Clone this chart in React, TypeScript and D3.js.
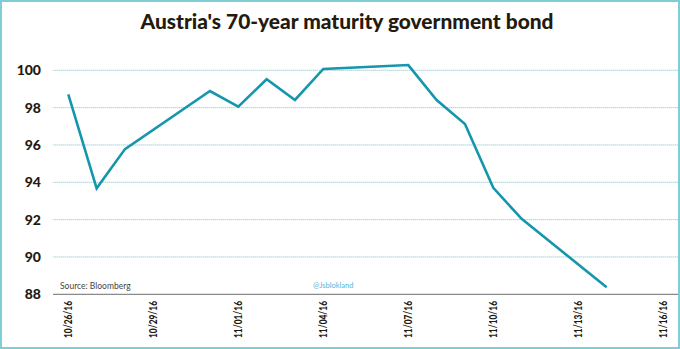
import React from "react";
import * as d3 from "d3";

const dates = ["2016-10-26","2016-10-27","2016-10-28","2016-10-31","2016-11-01","2016-11-02","2016-11-03","2016-11-04","2016-11-07","2016-11-08","2016-11-09","2016-11-10","2016-11-11","2016-11-14"];
const prices = [98.71, 93.68, 95.78, 98.89, 98.05, 99.52, 98.41, 100.07, 100.28, 98.41, 97.12, 93.7, 92.04, 88.38];
const xTicks = ["2016-10-26","2016-10-29","2016-11-01","2016-11-04","2016-11-07","2016-11-10","2016-11-13","2016-11-16"];
const yTicks = [88, 90, 92, 94, 96, 98, 100];

const W = 680, H = 349;
const parse = d3.utcParse("%Y-%m-%d");
const fmt = d3.utcFormat("%m/%d/%y");

export default function App() {
  const x = d3.scaleUtc()
    .domain([parse("2016-10-26")!, parse("2016-11-16")!])
    .range([68.3, 663.3]);
  const y = d3.scaleLinear().domain([88, 100]).range([294.3, 70.3]);
  const data = dates.map((d, i) => ({ d: parse(d)!, v: prices[i] }));
  const line = d3.line<{ d: Date; v: number }>().x(p => x(p.d)).y(p => y(p.v));

  return (
    <svg width={W} height={H} style={{ position: "absolute", left: 0, top: 0, background: "#fff" }}
      fontFamily="Lato, 'Open Sans', sans-serif">
      <rect x={1} y={1} width={W - 2} height={H - 2} fill="#fff" stroke="#7fcdd5" strokeWidth={2} />
      <text x={347} y={29} textAnchor="middle" fontSize={20} fontWeight="900" fill="#241a0e"
        textLength={413} lengthAdjust="spacingAndGlyphs">Austria's 70-year maturity government bond</text>
      {yTicks.filter(t => t !== 88).map(t => (
        <line key={t} x1={53} x2={678} y1={y(t)} y2={y(t)} stroke="#9dd6de" strokeWidth={1} strokeDasharray="1.5 0.5" />
      ))}
      <line x1={53} x2={678} y1={y(88)} y2={y(88)} stroke="#8a8a8a" strokeWidth={1.3} />
      {yTicks.map(t => (
        <text key={t} x={41} y={y(t)} dy="0.35em" textAnchor="end" fontSize={14} fontWeight="900" fill="#1e1a12">{t}</text>
      ))}
      {xTicks.map(t => {
        const px = x(parse(t)!);
        return (
          <text key={t} transform={`translate(${px + 4},301) rotate(-90)`} textAnchor="end" fontSize={11.5}
            fontWeight="900" fill="#1e1a12" textLength={37} lengthAdjust="spacingAndGlyphs">{fmt(parse(t)!)}</text>
        );
      })}
      <text x={60} y={289} fontSize={8.5} fill="#444">Source: Bloomberg</text>
      <text x={313} y={288} fontSize={7.5} fill="#4fb8d8">@Jsblokland</text>
      <path d={line(data) ?? ""} fill="none" stroke="#1596ad" strokeWidth={2.6} strokeLinejoin="miter" />
    </svg>
  );
}
